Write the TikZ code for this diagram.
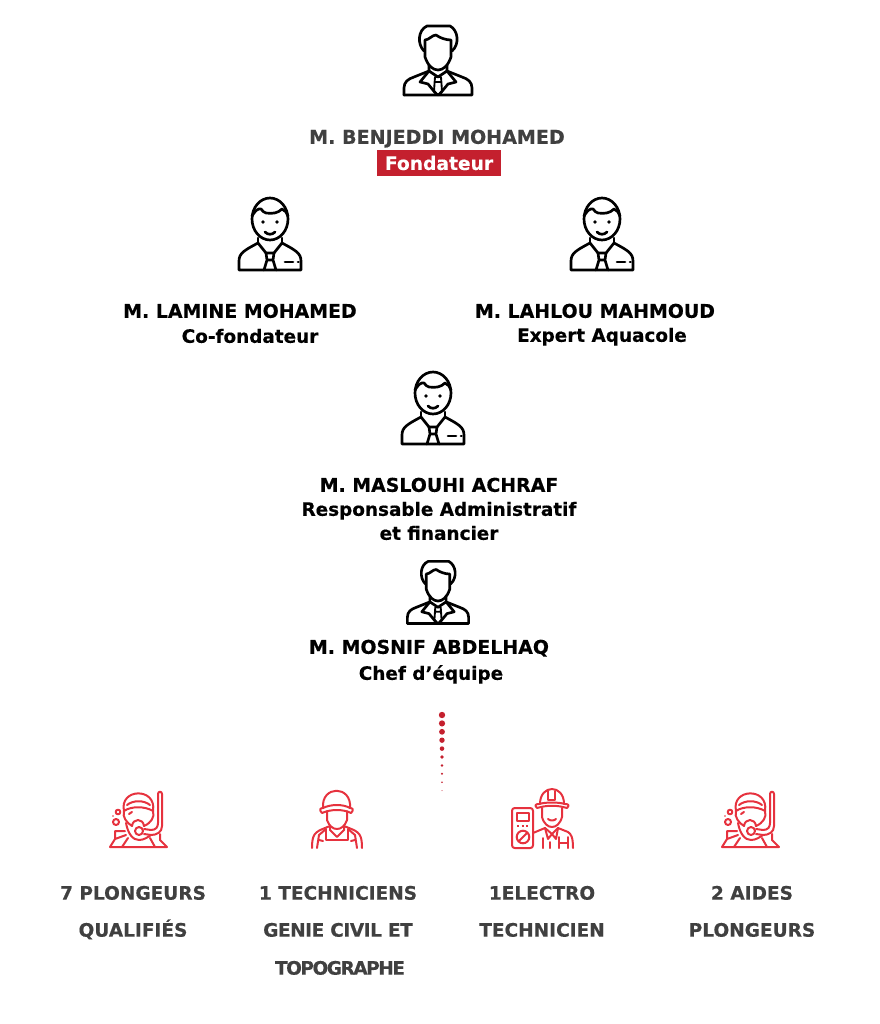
\documentclass[tikz,border=0pt]{standalone}
\usepackage{fontspec}
\setmainfont{DejaVu Sans}[BoldFeatures={FakeBold=0.4}]
\usepackage{color}
\definecolor{redmain}{HTML}{C4202E}
\definecolor{redicon}{HTML}{E6323E}
\definecolor{graytext}{HTML}{404040}
\tikzset{
  blackicon/.style={draw=black,line width=2pt,line join=round,line cap=round},
  redline/.style={draw=redicon,line width=1.5pt,line join=round,line cap=round},
  person/.style={font=\fontsize{14.2pt}{16pt}\selectfont\bfseries,text=black,inner sep=0pt,text height=10.2pt,text depth=0pt},
  boss/.style={person,text=graytext,font=\fontsize{14.3pt}{16pt}\selectfont\bfseries},
  role/.style={person,font=\fontsize{13.8pt}{16pt}\selectfont\bfseries},
  staff/.style={font=\fontsize{13.9pt}{16pt}\selectfont\bfseries,text=graytext,inner sep=0pt,text height=10pt,text depth=0pt},
  title/.style={font=\fontsize{14pt}{16pt}\selectfont\bfseries,text=white,fill=redmain,
    minimum width=93pt,minimum height=19.5pt,inner sep=0pt},
  pics/suitman/.style={code={
    \path[blackicon]
      (-14,-9) .. controls (-21,-16) and (-20,-30) .. (-11,-34) -- (12,-34)
      .. controls (20,-30) and (22,-16) .. (14,-9);
    \path[blackicon]
      (-13,-20) .. controls (-9,-20) and (-6,-25) .. (-2,-25)
      .. controls (2,-22) and (8,-20) .. (13,-20) -- (13,-3)
      .. controls (10,6) and (5,10) .. (0,10) .. controls (-5,10) and (-10,6) .. (-13,-3) -- cycle;
    \path[blackicon]
      (-34,35) -- (34,35) -- (34,28) .. controls (34,22) and (30,19) .. (24,17) -- (9,11) -- (9,5);
    \path[blackicon]
      (-34,35) -- (-34,28) .. controls (-34,22) and (-30,19) .. (-24,17) -- (-9,11) -- (-9,5);
    \path[blackicon] (-9,11) -- (0,17) -- (9,11) (-9,11) -- (-18,22) -- (-10,24) -- (-1,35)
      (9,11) -- (18,22) -- (10,24) -- (1,35);
    \path[blackicon,line width=1.4pt] (-3,17) -- (3,17) -- (4,31) -- (0,35) -- (-4,31) -- cycle (-2,22) -- (2,22);
  }},
  pics/smileman/.style={code={
    \path[blackicon] (0,-16) circle[x radius=18,y radius=21];
    \path[blackicon] (-18,-19) .. controls (-15,-24) and (-12,-27) .. (-9,-26)
      .. controls (-7,-24) and (-6,-22) .. (-4,-22)
      .. controls (3,-21) and (8,-22) .. (12,-26) .. controls (15,-25) and (17,-22) .. (18,-19);
    \fill (-7,-13) circle (1.8) (7,-13) circle (1.8);
    \path[blackicon] (-5,-3) .. controls (-2,0) and (2,0) .. (5,-3);
    \path[blackicon] (-31,35) -- (31,35) -- (31,26) .. controls (31,18) and (25,15) .. (12,8) -- (4,18) -- (-4,18) -- (-12,8)
      .. controls (-25,15) and (-31,18) .. (-31,26) -- cycle;
    \path[blackicon] (-12,8) -- (-12,3) (12,8) -- (12,3);
    \path[blackicon] (-4,18) -- (-3,25) -- (3,25) -- (4,18) (-3,25) -- (-6,35) (3,25) -- (6,35);
    \path[blackicon] (15,27) -- (23,27) (28,27) -- (28.5,27);
  }},
  pics/diver/.style={code={
    % snorkel
    \path[redline] (5,9) -- (12,10) .. controls (17,10) and (19,7) .. (19,3) -- (19,-26)
      .. controls (19,-29) and (23,-29) .. (23,-26) -- (23,6) .. controls (23,12) and (18,15) .. (12,15) -- (5,14);
    % head, strap, mask
    \path[redline] (-15,-9) .. controls (-20,-32) and (18,-33) .. (14,-9);
    \path[redline] (-12,-15) .. controls (-6,-20) and (5,-20) .. (11,-15);
    \path[redline] (-15,-9) .. controls (-8,-14) and (6,-14) .. (14,-9)
      .. controls (16,-3) and (12,3) .. (5,6) .. controls (4,-2) and (-6,-2) .. (-7,6)
      .. controls (-12,3) and (-17,-3) .. (-15,-9);
    \path[redline] (-10,-6) -- (-7,-8);
    \path[redline] (0,11) circle (4);
    \path[redline] (-13,3) .. controls (-11,14) and (-6,20) .. (0,20) .. controls (5,20) and (9,17) .. (12,15);
    % bubbles
    \path[redline] (-21,-8) circle (2.3) (-23,2) circle (3);
    \fill[redicon] (-26,-4) circle (0.8);
    % shoulders
    \path[redline] (-14,11) -- (-24,11) -- (-24,19) -- (-29,27) -- (28,27) -- (21,20) -- (21,14);
    \path[redline] (-24,19) -- (-13,15) (-17,27) -- (-11,18) (16,27) -- (11,18);
  }},
  pics/capman/.style={code={
    % cap
    \path[redline] (-14,-12) .. controls (-16,-35) and (15,-35) .. (13,-12);
    \path[redline] (-15,-7) .. controls (-18,-10) and (-17,-12) .. (-14,-12)
      .. controls (-6,-16) and (6,-16) .. (13,-12) .. controls (16,-12) and (17,-10) .. (14,-7)
      .. controls (6,-11) and (-6,-11) .. (-15,-7);
    % face
    \path[redline] (-10,-9) -- (-10,0) .. controls (-8,6) and (-4,9) .. (0,9)
      .. controls (4,9) and (8,6) .. (10,0) -- (10,-9);
    % overalls
    \path[redline] (-25,28) .. controls (-25,14) and (-22,12) .. (-12,8) -- (-7,6) -- (-7,10) -- (0,17) -- (7,10) -- (7,6)
      -- (12,8) .. controls (22,12) and (25,14) .. (25,28);
    \path[redline] (-20,28) -- (-18,15) -- (-11,9) (20,28) -- (18,15) -- (11,9);
    \path[redline] (-11,9) -- (-11,20) -- (11,20) -- (11,9);
    \path[redline] (-18,20) -- (-14,21) (14,21) -- (18,20);
  }},
  pics/electrician/.style={code={
    % meter
    \path[redline,rounded corners=2pt] (-40,-12) rectangle (-19,28);
    \path[redline] (-35,-7) rectangle (-23,1);
    \path[redline] (-29,17) circle (6.3) (-33,21) -- (-25,13);
    \draw[redicon,line width=1.5pt,dash pattern=on 1.5pt off 2pt] (-35,6) -- (-22,6);
    % helmet
    \path[redline] (-12,-16) .. controls (-12,-26) and (-6,-31) .. (0,-31)
      .. controls (6,-31) and (12,-26) .. (12,-16);
    \path[redline] (-15,-12) .. controls (-18,-15) and (-16,-16) .. (-13,-16)
      .. controls (-6,-18) and (6,-18) .. (13,-16) .. controls (16,-16) and (18,-15) .. (15,-12)
      .. controls (5,-15) and (-5,-15) .. (-15,-12);
    \path[redline] (-4,-29) -- (-4,-20) -- (3,-20) -- (3,-29);
    % face
    \path[redline] (-10,-12) -- (-10,-3) .. controls (-8,4) and (-4,7) .. (0,7)
      .. controls (4,7) and (8,4) .. (10,-3) -- (10,-12);
    \path[redline] (-4,-1) .. controls (-2,1) and (2,1) .. (4,-1);
    % body
    \path[redline] (-19,13) -- (-7,8) -- (0,14) -- (6,8) -- (16,12) .. controls (19,14) and (21,17) .. (21,28);
    \path[redline] (-7,8) -- (-4,19) -- (0,14) -- (4,19) -- (6,8);
    \path[redline] (-9,18) -- (-9,28) (-2,22) -- (-2,28) (7,17) -- (7,28) (16,17) -- (16,28) (7,23) -- (16,23);
  }}
}
\begin{document}
\begin{tikzpicture}[x=0.75pt,y=-0.75pt]
\useasboundingbox (0,0) rectangle (879,1024);
% top of the team
\pic at (438,60) {suitman};
\node [boss] (benjeddi) at (437,137) {M. BENJEDDI MOHAMED};
\node [title] (fondateur) at (439,163) {Fondateur};
\pic at (270,235) {smileman};
\pic at (602,235) {smileman};
\node [person] (lamine) at (240,311) {M. LAMINE MOHAMED};
\node [role] (cofond) at (250,336) {Co-fondateur};
\node [person] (lahlou) at (595,311) {M. LAHLOU MAHMOUD};
\node [role] (expert) at (602,335) {Expert Aquacole};
\pic at (433,409) {smileman};
\node [person] (maslouhi) at (439,485) {M. MASLOUHI ACHRAF};
\node [role] (respo) at (439,509) {Responsable Administratif};
\node [role] (financier) at (439,533) {et financier};
\pic [scale=0.9] at (438,592) {suitman};
\node [person] (mosnif) at (429,647) {M. MOSNIF ABDELHAQ};
\node [role] (chef) at (431,673) {Chef d’équipe};
% dots
\foreach \i/\r in {0/3.2,1/3.1,2/2.9,3/2.7,4/2.3,5/1.8,6/1.4,7/1.1,8/0.8,9/0.5}
  \fill [redmain] (442,715+8.4*\i) circle (\r);
% bottom row
\pic at (139,820) {diver};
\pic at (337,820) {capman};
\pic at (552,820) {electrician};
\pic at (751,820) {diver};
\node [staff] (plongeurs) at (133,893) {7 PLONGEURS};
\node [staff] (qualifies) at (133,930) {QUALIFIÉS};
\node [staff] (techniciens) at (338,893) {1 TECHNICIENS};
\node [staff,font=\fontsize{13.9pt}{16pt}\selectfont\bfseries\addfontfeatures{LetterSpace=-2.5}] (genie) at (338,930) {GENIE CIVIL ET};
\node [staff,font=\fontsize{13.9pt}{16pt}\selectfont\bfseries\addfontfeatures{LetterSpace=-8}] (topo) at (340,968) {TOPOGRAPHE};
\node [staff] (electro) at (542,893) {1ELECTRO};
\node [staff] (technicien) at (542,930) {TECHNICIEN};
\node [staff] (aides) at (752,893) {2 AIDES};
\node [staff] (aidesb) at (752,930) {PLONGEURS};
\end{tikzpicture}
\end{document}
